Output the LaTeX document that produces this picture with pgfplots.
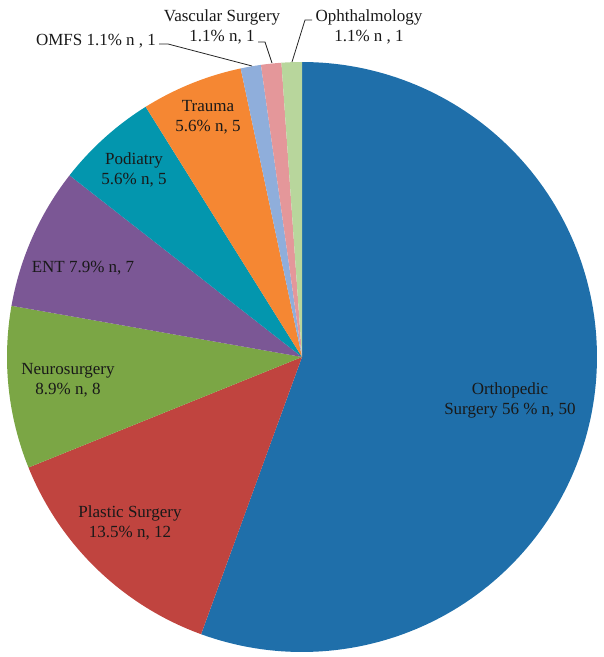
\documentclass[border=0pt]{standalone}
\usepackage{fontspec}
\setmainfont{Liberation Serif}
\usepackage{pgfplots}
\pgfplotsset{compat=1.18}

\definecolor{cOrtho}{HTML}{1F6FAA}
\definecolor{cPlastic}{HTML}{C0443F}
\definecolor{cNeuro}{HTML}{7BA645}
\definecolor{cENT}{HTML}{7B5795}
\definecolor{cPod}{HTML}{0396AE}
\definecolor{cTrauma}{HTML}{F58733}
\definecolor{cOMFS}{HTML}{8FAEDB}
\definecolor{cVasc}{HTML}{E4979A}
\definecolor{cOphth}{HTML}{B8D69C}

% n = 50, 12, 8, 7, 5, 5, 1, 1, 1 (total 90, 4 degrees per case), clockwise from 12 o'clock
\newcommand{\slice}[3]{%
  \addplot[draw=none, fill=#3, domain=#1:#2, samples=150]
    ({302+295*cos(x)}, {300+295*sin(x)}) -- (axis cs:302,300) -- cycle;
}

\tikzset{lbl/.style={font=\fontsize{17}{20}\selectfont, text=black!90, align=center, inner sep=0pt}}

\begin{document}
\begin{tikzpicture}
\begin{axis}[
    x=1pt, y=1pt,
    xmin=0, xmax=604, ymin=0, ymax=657,
    hide axis,
    clip=false,
]
\path (axis cs:0,0) rectangle (axis cs:604,657);

\slice{-110}{90}{cOrtho}
\slice{-158}{-110}{cPlastic}
\slice{-190}{-158}{cNeuro}
\slice{-218}{-190}{cENT}
\slice{-238}{-218}{cPod}
\slice{-258}{-238}{cTrauma}
\slice{-262}{-258}{cOMFS}
\slice{-266}{-262}{cVasc}
\slice{-270}{-266}{cOphth}

\node[lbl] at (axis cs:510,257) {Orthopedic\\Surgery 56 \% n, 50};
\node[lbl] at (axis cs:130,134) {Plastic Surgery\\13.5\% n, 12};
\node[lbl] at (axis cs:68,277) {Neurosurgery\\8.9\% n, 8};
\node[lbl] at (axis cs:83,389) {ENT 7.9\% n, 7};
\node[lbl] at (axis cs:134,487) {Podiatry\\5.6\% n, 5};
\node[lbl] at (axis cs:208,540) {Trauma\\5.6\% n, 5};
\node[lbl] at (axis cs:96,616) {OMFS 1.1\% n , 1};
\node[lbl] at (axis cs:222,630) {Vascular Surgery\\1.1\% n, 1};
\node[lbl] at (axis cs:369,630) {Ophthalmology\\1.1\% n , 1};

\draw[black!85, line width=0.8pt] (axis cs:159,613) -- (axis cs:168,613) -- (axis cs:252,591);
\draw[black!85, line width=0.8pt] (axis cs:258,615) -- (axis cs:265,615) -- (axis cs:272,594);
\draw[black!85, line width=0.8pt] (axis cs:312,637) -- (axis cs:305,637) -- (axis cs:292,595);
\end{axis}
\end{tikzpicture}
\end{document}
